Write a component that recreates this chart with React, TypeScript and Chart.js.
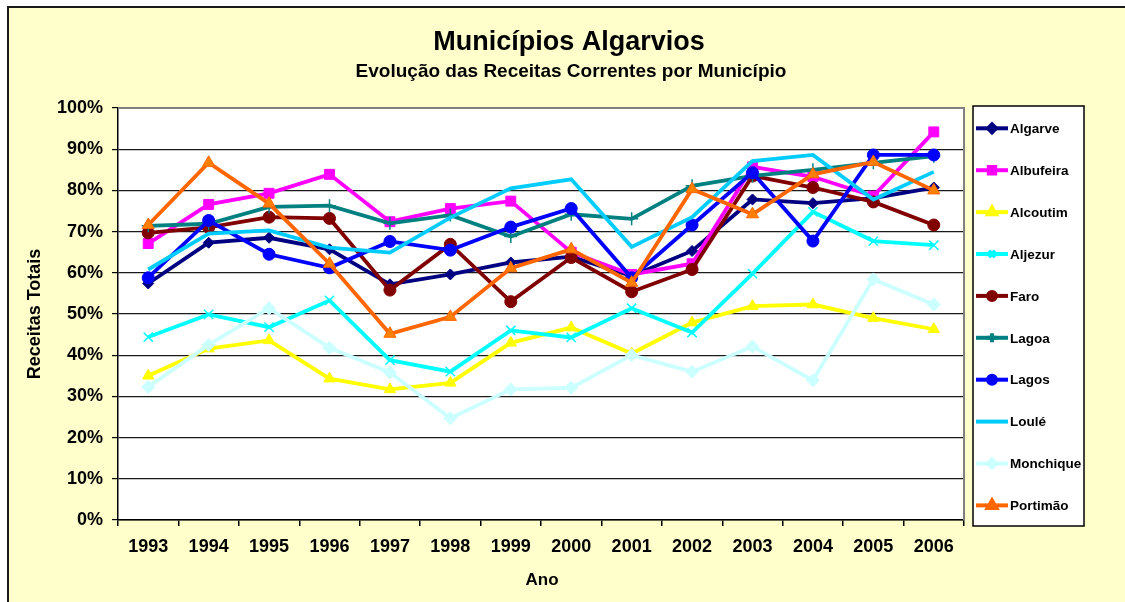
import React, { useEffect, useRef } from "react";
import { Chart, registerables } from "chart.js";
import { drawPoint } from "chart.js/helpers";

Chart.register(...registerables);

const years = ["1993", "1994", "1995", "1996", "1997", "1998", "1999", "2000", "2001", "2002", "2003", "2004", "2005", "2006"];

const algarve = [57.4, 67.3, 68.5, 65.7, 57.2, 59.6, 62.5, 63.9, 59.2, 65.3, 77.8, 76.9, 78.1, 80.7];
const albufeira = [67.1, 76.6, 79.3, 83.9, 72.4, 75.6, 77.4, 65.0, 59.6, 62.2, 85.7, 83.3, 78.6, 94.2];
const alcoutim = [35.0, 41.6, 43.6, 34.3, 31.7, 33.3, 43.0, 46.7, 40.4, 47.9, 51.9, 52.3, 49.0, 46.3];
const aljezur = [44.4, 49.9, 46.8, 53.3, 38.8, 36.0, 46.0, 44.3, 51.4, 45.5, 59.8, 74.8, 67.7, 66.7];
const faro = [69.7, 71.0, 73.5, 73.2, 55.8, 66.9, 53.0, 63.7, 55.4, 60.8, 83.5, 80.7, 77.2, 71.6];
const lagoa = [71.4, 71.9, 76.0, 76.3, 72.0, 74.0, 68.8, 74.2, 73.1, 81.1, 83.5, 85.0, 86.7, 88.3];
const lagos = [58.8, 72.7, 64.5, 61.2, 67.6, 65.5, 71.1, 75.6, 58.8, 71.6, 84.3, 67.7, 88.6, 88.6];
const loule = [60.8, 69.5, 70.3, 66.1, 64.9, 73.4, 80.5, 82.7, 66.3, 73.5, 87.1, 88.6, 77.8, 84.5];
const monchique = [32.3, 42.5, 51.4, 41.8, 35.8, 24.7, 31.7, 32.1, 40.0, 36.0, 42.1, 33.9, 58.4, 52.3];
const portimao = [71.6, 86.7, 76.8, 62.2, 45.2, 49.3, 61.1, 65.7, 57.6, 80.3, 74.2, 83.9, 86.9, 80.0];

const titleText = "Municípios Algarvios";
const subtitleText = "Evolução das Receitas Correntes por Município";
const yTitle = "Receitas Totais";
const xTitle = "Ano";

const FONT = "'Liberation Sans', Arial, Helvetica, sans-serif";

type SeriesDef = {
  label: string;
  data: number[];
  color: string;
  fill: string;
  style: string | false;
  radius: number;
  pbw: number;
  legendRadius: number;
};

const series: SeriesDef[] = [
  { label: "Algarve", data: algarve, color: "#000080", fill: "#000080", style: "rectRot", radius: 5.5, pbw: 1, legendRadius: 4 },
  { label: "Albufeira", data: albufeira, color: "#FF00FF", fill: "#FF00FF", style: "rect", radius: 7, pbw: 1, legendRadius: 4.5 },
  { label: "Alcoutim", data: alcoutim, color: "#FFFF00", fill: "#FFFF00", style: "triangle", radius: 6.5, pbw: 1, legendRadius: 4.5 },
  { label: "Aljezur", data: aljezur, color: "#00FFFF", fill: "#00FFFF", style: "crossRot", radius: 6.5, pbw: 1.5, legendRadius: 4.5 },
  { label: "Faro", data: faro, color: "#800000", fill: "#800000", style: "circle", radius: 6, pbw: 1, legendRadius: 4 },
  { label: "Lagoa", data: lagoa, color: "#008080", fill: "#008080", style: "cross", radius: 6.5, pbw: 1.5, legendRadius: 4.5 },
  { label: "Lagos", data: lagos, color: "#0000FF", fill: "#0000FF", style: "circle", radius: 6, pbw: 1, legendRadius: 4 },
  { label: "Loulé", data: loule, color: "#00CCFF", fill: "#00CCFF", style: false, radius: 0, pbw: 0, legendRadius: 0 },
  { label: "Monchique", data: monchique, color: "#CCFFFF", fill: "#CCFFFF", style: "rectRot", radius: 6.5, pbw: 1, legendRadius: 4 },
  { label: "Portimão", data: portimao, color: "#FF6600", fill: "#FF8000", style: "triangle", radius: 7, pbw: 1, legendRadius: 5 },
];

const LEGEND_X = 973;
const LEGEND_Y = 106;
const LEGEND_W = 111;
const LEGEND_H = 420;
const LEGEND_ROW0 = 128.3;
const LEGEND_STEP = 41.9;

const decorPlugin = {
  id: "decor",
  beforeDraw(chart: any) {
    const ctx = chart.ctx;
    const { left, top, right, bottom } = chart.chartArea;
    ctx.save();
    ctx.fillStyle = "#FFFFFF";
    ctx.fillRect(0, 0, chart.width, chart.height);
    ctx.fillStyle = "#FFFFCC";
    ctx.fillRect(8, 7, chart.width, chart.height);
    ctx.strokeStyle = "#1a1a1a";
    ctx.lineWidth = 2;
    ctx.strokeRect(8, 7, chart.width + 20, chart.height + 20);
    ctx.fillStyle = "#FFFFFF";
    ctx.fillRect(left, top, right - left, bottom - top);
    ctx.restore();
  },
  beforeDatasetsDraw(chart: any) {
    const ctx = chart.ctx;
    const { left, top, right, bottom } = chart.chartArea;
    ctx.save();
    ctx.strokeStyle = "#808080";
    ctx.lineWidth = 2;
    ctx.beginPath();
    ctx.moveTo(left, top);
    ctx.lineTo(right, top);
    ctx.lineTo(right, bottom);
    ctx.stroke();
    ctx.restore();
  },
  afterDraw(chart: any) {
    const ctx = chart.ctx;
    ctx.save();
    ctx.fillStyle = "#000000";
    ctx.textAlign = "center";
    ctx.textBaseline = "middle";
    ctx.font = `bold 27px ${FONT}`;
    ctx.fillText(titleText, 569, 43);
    ctx.font = `bold 19px ${FONT}`;
    ctx.fillText(subtitleText, 571, 72);
    ctx.font = `bold 17px ${FONT}`;
    ctx.fillText(xTitle, 542, 580);
    ctx.save();
    ctx.translate(35, 314);
    ctx.rotate(-Math.PI / 2);
    ctx.font = `bold 18px ${FONT}`;
    ctx.fillText(yTitle, 0, 0);
    ctx.restore();

    // legend
    ctx.fillStyle = "#FFFFFF";
    ctx.fillRect(LEGEND_X, LEGEND_Y, LEGEND_W, LEGEND_H);
    ctx.strokeStyle = "#000000";
    ctx.lineWidth = 1.5;
    ctx.strokeRect(LEGEND_X, LEGEND_Y, LEGEND_W, LEGEND_H);
    series.forEach((s, i) => {
      const y = LEGEND_ROW0 + i * LEGEND_STEP;
      ctx.strokeStyle = s.color;
      ctx.lineWidth = 4;
      ctx.beginPath();
      ctx.moveTo(976, y);
      ctx.lineTo(1008, y);
      ctx.stroke();
      if (s.style) {
        ctx.fillStyle = s.fill;
        ctx.strokeStyle = s.color;
        drawPoint(ctx, { pointStyle: s.style as any, radius: s.legendRadius, rotation: 0, borderWidth: s.pbw }, 992, y);
      }
      ctx.fillStyle = "#000000";
      ctx.textAlign = "left";
      ctx.textBaseline = "middle";
      ctx.font = `bold 13.5px ${FONT}`;
      ctx.fillText(s.label, 1010, y + 1);
    });
    ctx.restore();
  },
};

export default function App() {
  const ref = useRef<HTMLCanvasElement | null>(null);
  useEffect(() => {
    if (!ref.current) return;
    const chart = new Chart(ref.current, {
      type: "line",
      data: {
        labels: years,
        datasets: series.map((s, i) => ({
          label: s.label,
          data: s.data,
          borderColor: s.color,
          backgroundColor: s.fill,
          borderWidth: 3.8,
          pointStyle: s.style as any,
          pointRadius: s.radius,
          pointBackgroundColor: s.fill,
          pointBorderColor: s.color,
          pointBorderWidth: s.pbw,
          tension: 0,
          fill: false,
          order: series.length - i,
        })),
      },
      options: {
        responsive: false,
        animation: false,
        events: [],
        layout: { padding: { left: 0, top: 108, right: 161, bottom: 0 } },
        plugins: {
          legend: { display: false },
          title: { display: false },
          tooltip: { enabled: false },
        },
        scales: {
          x: {
            type: "category",
            offset: true,
            grid: {
              display: true,
              offset: true,
              drawOnChartArea: false,
              drawTicks: true,
              tickLength: 6,
              color: "#000000",
              lineWidth: 1.5,
            },
            border: { display: true, color: "#000000", width: 1.5 },
            ticks: {
              color: "#000000",
              font: { family: FONT, size: 18, weight: "bold" },
              padding: 10,
              maxRotation: 0,
              autoSkip: false,
            },
            afterFit(scale: any) {
              scale.height = 82;
            },
          },
          y: {
            min: 0,
            max: 100,
            grid: {
              color: (c: any) => (c.tick && c.tick.value === 100 ? "rgba(0,0,0,0)" : "#1a1a1a"),
              tickColor: "#000000",
              lineWidth: 1.2,
              tickLength: 6,
            },
            border: { display: true, color: "#000000", width: 1.5 },
            ticks: {
              stepSize: 10,
              color: "#000000",
              font: { family: FONT, size: 18, weight: "bold" },
              padding: 9,
              callback: (v: any) => `${v}%`,
            },
            afterFit(scale: any) {
              scale.width = 118;
            },
          },
        },
      },
      plugins: [decorPlugin],
    });
    return () => chart.destroy();
  }, []);
  return (
    <div style={{ position: "absolute", left: 0, top: 0, width: 1125, height: 602 }}>
      <canvas ref={ref} width={1125} height={602} style={{ display: "block" }} />
    </div>
  );
}
